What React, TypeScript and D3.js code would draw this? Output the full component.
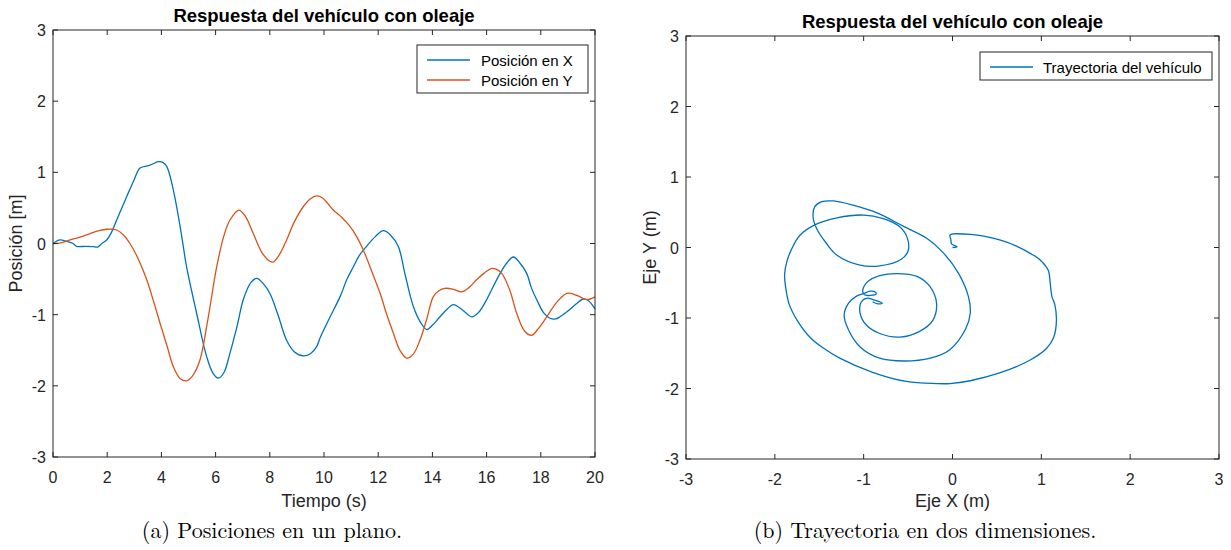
import React from "react";
import * as d3 from "d3";

// ---- Data ----
const timeX = [0, 0.26, 0.5, 0.74, 0.87, 1.2, 1.48, 1.65, 1.8, 1.98, 2.15, 2.35, 2.72, 3.0, 3.21, 3.58, 3.89, 4.05, 4.2, 4.4, 4.56, 4.75, 4.93, 5.3, 5.67, 5.9, 6.1, 6.3, 6.53, 6.8, 7.02, 7.3, 7.52, 7.75, 8.0, 8.3, 8.62, 8.9, 9.24, 9.5, 9.73, 9.85, 10.2, 10.59, 10.85, 11.08, 11.3, 11.57, 11.9, 12.19, 12.45, 12.74, 13.0, 13.3, 13.55, 13.79, 14.0, 14.28, 14.55, 14.77, 15.1, 15.45, 15.7, 16.0, 16.25, 16.5, 16.75, 16.99, 17.2, 17.48, 17.65, 17.85, 18.1, 18.34, 18.55, 18.71, 19.0, 19.3, 19.57, 19.75, 20];
const posX = [0, 0.05, 0.03, 0.0, -0.04, -0.04, -0.045, -0.05, 0.0, 0.05, 0.15, 0.33, 0.66, 0.9, 1.06, 1.1, 1.15, 1.14, 1.08, 0.82, 0.52, 0.1, -0.33, -0.98, -1.59, -1.82, -1.89, -1.82, -1.54, -1.15, -0.79, -0.55, -0.49, -0.56, -0.7, -1.0, -1.36, -1.52, -1.58, -1.55, -1.45, -1.33, -1.05, -0.75, -0.5, -0.33, -0.17, -0.04, 0.1, 0.18, 0.12, -0.04, -0.45, -0.89, -1.1, -1.21, -1.15, -1.03, -0.92, -0.86, -0.93, -1.03, -0.97, -0.79, -0.6, -0.42, -0.27, -0.19, -0.26, -0.42, -0.62, -0.79, -0.97, -1.05, -1.06, -1.03, -0.95, -0.85, -0.78, -0.8, -0.92];

const timeY = [0, 0.3, 0.63, 1.0, 1.37, 1.7, 1.98, 2.2, 2.35, 2.6, 2.84, 3.15, 3.46, 3.7, 3.95, 4.2, 4.44, 4.7, 4.93, 5.15, 5.42, 5.7, 6.04, 6.3, 6.53, 6.86, 7.1, 7.39, 7.7, 8.0, 8.13, 8.35, 8.62, 8.9, 9.24, 9.5, 9.73, 9.95, 10.34, 10.65, 10.96, 11.2, 11.45, 11.75, 12.07, 12.3, 12.56, 12.8, 13.05, 13.3, 13.54, 13.8, 14.03, 14.25, 14.46, 14.75, 15.08, 15.35, 15.63, 15.9, 16.19, 16.35, 16.56, 16.85, 17.11, 17.4, 17.66, 17.9, 18.22, 18.6, 18.96, 19.2, 19.45, 19.69, 20];
const posY = [0, 0.01, 0.05, 0.09, 0.14, 0.18, 0.2, 0.2, 0.19, 0.12, 0.0, -0.22, -0.51, -0.8, -1.12, -1.43, -1.73, -1.9, -1.93, -1.86, -1.64, -1.1, -0.33, 0.1, 0.33, 0.47, 0.38, 0.14, -0.12, -0.25, -0.26, -0.16, 0.05, 0.3, 0.52, 0.63, 0.67, 0.64, 0.47, 0.37, 0.24, 0.1, -0.09, -0.38, -0.7, -0.98, -1.26, -1.5, -1.61, -1.55, -1.36, -1.05, -0.75, -0.66, -0.63, -0.64, -0.68, -0.62, -0.51, -0.42, -0.35, -0.36, -0.42, -0.65, -0.98, -1.23, -1.29, -1.2, -1.03, -0.82, -0.7, -0.71, -0.75, -0.79, -0.75];

const trajX = [0.0, 0.05, 0.02, -0.01, -0.02, -0.03, -0.01, 0.05, 0.2, 0.35, 0.55, 0.72, 0.87, 0.99, 1.08, 1.1, 1.12, 1.15, 1.17, 1.14, 1.06, 0.87, 0.53, 0.2, -0.03, -0.18, -0.52, -0.9, -1.27, -1.45, -1.6, -1.75, -1.84, -1.88, -1.89, -1.86, -1.81, -1.72, -1.55, -1.3, -1.0, -0.78, -0.6, -0.51, -0.5, -0.58, -0.82, -1.04, -1.3, -1.42, -1.53, -1.57, -1.55, -1.47, -1.34, -1.12, -0.85, -0.55, -0.29, -0.1, 0.07, 0.18, 0.2, 0.15, -0.03, -0.25, -0.55, -0.82, -1.04, -1.17, -1.22, -1.17, -1.08, -0.99, -0.93, -0.87, -0.86, -0.92, -0.99, -1.01, -1.0, -0.95, -0.82, -0.63, -0.4, -0.25, -0.18, -0.22, -0.37, -0.59, -0.82, -0.97, -1.04, -1.03, -0.97, -0.87, -0.79, -0.84, -0.9];
const trajY = [0.0, 0.01, 0.03, 0.05, 0.12, 0.17, 0.19, 0.195, 0.185, 0.16, 0.1, 0.02, -0.08, -0.18, -0.33, -0.51, -0.7, -0.8, -1.03, -1.27, -1.43, -1.6, -1.78, -1.89, -1.93, -1.93, -1.9, -1.77, -1.57, -1.43, -1.28, -1.03, -0.8, -0.55, -0.38, -0.18, -0.02, 0.17, 0.32, 0.42, 0.46, 0.41, 0.3, 0.14, -0.05, -0.17, -0.26, -0.25, -0.11, 0.06, 0.27, 0.44, 0.58, 0.65, 0.66, 0.6, 0.49, 0.3, 0.13, -0.08, -0.37, -0.7, -0.93, -1.15, -1.45, -1.57, -1.61, -1.57, -1.41, -1.17, -0.96, -0.79, -0.69, -0.65, -0.62, -0.63, -0.66, -0.68, -0.67, -0.63, -0.56, -0.48, -0.4, -0.37, -0.41, -0.56, -0.79, -1.03, -1.19, -1.27, -1.22, -1.1, -0.93, -0.78, -0.72, -0.75, -0.79, -0.8, -0.77];

const timeTicks = [0, 2, 4, 6, 8, 10, 12, 14, 16, 18, 20];
const posTicks = [-3, -2, -1, 0, 1, 2, 3];
const ejeTicks = [-3, -2, -1, 0, 1, 2, 3];

const titleText = "Respuesta del vehículo con oleaje";
const legendLeft = ["Posición en X", "Posición en Y"];
const legendRight = ["Trayectoria del vehículo"];

const BLUE = "#0072BD";
const RED = "#D95319";
const AX = "#262626";
const SANS = "'Liberation Sans', Arial, Helvetica, sans-serif";
const SERIF = "'Latin Modern Roman', 'DejaVu Serif', 'Liberation Serif', serif";

type Pt = [number, number];

function Axes({ x, y, xTicks, yTicks }: { x: d3.ScaleLinear<number, number>; y: d3.ScaleLinear<number, number>; xTicks: number[]; yTicks: number[] }) {
  const [x0, x1] = x.range();
  const [y0, y1] = y.range(); // y0 bottom, y1 top
  const tl = 5;
  return (
    <g>
      {xTicks.map((t) => (
        <g key={"xt" + t}>
          <line x1={x(t)} x2={x(t)} y1={y0} y2={y0 - tl} stroke={AX} strokeWidth={1} />
          <line x1={x(t)} x2={x(t)} y1={y1} y2={y1 + tl} stroke={AX} strokeWidth={1} />
          <text x={x(t)} y={y0 + 26} textAnchor="middle" fontSize={16} fill={AX} fontFamily={SANS}>{t}</text>
        </g>
      ))}
      {yTicks.map((t) => (
        <g key={"yt" + t}>
          <line x1={x0} x2={x0 + tl} y1={y(t)} y2={y(t)} stroke={AX} strokeWidth={1} />
          <line x1={x1} x2={x1 - tl} y1={y(t)} y2={y(t)} stroke={AX} strokeWidth={1} />
          <text x={x0 - 7} y={y(t) + 6} textAnchor="end" fontSize={16} fill={AX} fontFamily={SANS}>{t}</text>
        </g>
      ))}
      <rect x={x0} y={y1} width={x1 - x0} height={y0 - y1} fill="none" stroke={AX} strokeWidth={1} />
    </g>
  );
}

export default function App() {
  const xL = d3.scaleLinear().domain([0, 20]).range([53, 595]);
  const yL = d3.scaleLinear().domain([-3, 3]).range([457, 30]);
  const xR = d3.scaleLinear().domain([-3, 3]).range([686, 1219]);
  const yR = d3.scaleLinear().domain([-3, 3]).range([459, 36]);

  const lineL = d3.line<Pt>().x((d) => xL(d[0])).y((d) => yL(d[1])).curve(d3.curveCatmullRom.alpha(0.5));
  const lineR = d3.line<Pt>().x((d) => xR(d[0])).y((d) => yR(d[1])).curve(d3.curveCatmullRom.alpha(0.5));

  const seriesX: Pt[] = timeX.map((t, i) => [t, posX[i]]);
  const seriesY: Pt[] = timeY.map((t, i) => [t, posY[i]]);
  const traj: Pt[] = trajX.map((v, i) => [v, trajY[i]]);

  const midL = (xL.range()[0] + xL.range()[1]) / 2;
  const midR = (xR.range()[0] + xR.range()[1]) / 2;

  return (
    <svg width={1231} height={550} style={{ position: "absolute", left: 0, top: 0, background: "#fff" }}>
      <rect x={0} y={0} width={1231} height={550} fill="#fff" />
      {/* Left chart */}
      <path d={lineL(seriesX) || ""} fill="none" stroke={BLUE} strokeWidth={1.3} />
      <path d={lineL(seriesY) || ""} fill="none" stroke={RED} strokeWidth={1.3} />
      <Axes x={xL} y={yL} xTicks={timeTicks} yTicks={posTicks} />
      <text x={midL} y={22} textAnchor="middle" fontSize={18.5} fontWeight="bold" fill="#000" fontFamily={SANS}>{titleText}</text>
      <text x={midL} y={507} textAnchor="middle" fontSize={18} fill={AX} fontFamily={SANS}>Tiempo (s)</text>
      <text transform={`translate(22,${(yL.range()[0] + yL.range()[1]) / 2}) rotate(-90)`} textAnchor="middle" fontSize={18} fill={AX} fontFamily={SANS}>Posición [m]</text>
      <g>
        <rect x={417} y={45} width={171} height={48} fill="#fff" stroke={AX} strokeWidth={1} />
        {legendLeft.map((lab, i) => (
          <g key={lab}>
            <line x1={427} x2={470} y1={60 + i * 20} y2={60 + i * 20} stroke={i === 0 ? BLUE : RED} strokeWidth={1.3} />
            <text x={481} y={65.5 + i * 20} fontSize={15} fill="#000" fontFamily={SANS}>{lab}</text>
          </g>
        ))}
      </g>
      <text x={272} y={538} textAnchor="middle" fontSize={22} fill="#000" fontFamily={SERIF}>(a) Posiciones en un plano.</text>

      {/* Right chart */}
      <path d={lineR(traj) || ""} fill="none" stroke={BLUE} strokeWidth={1.3} />
      <Axes x={xR} y={yR} xTicks={ejeTicks} yTicks={ejeTicks} />
      <text x={midR} y={28} textAnchor="middle" fontSize={18.5} fontWeight="bold" fill="#000" fontFamily={SANS}>{titleText}</text>
      <text x={midR} y={507} textAnchor="middle" fontSize={18} fill={AX} fontFamily={SANS}>Eje X (m)</text>
      <text transform={`translate(656,${(yR.range()[0] + yR.range()[1]) / 2}) rotate(-90)`} textAnchor="middle" fontSize={18} fill={AX} fontFamily={SANS}>Eje Y (m)</text>
      <g>
        <rect x={980} y={52} width={232} height={28} fill="#fff" stroke={AX} strokeWidth={1} />
        {legendRight.map((lab) => (
          <g key={lab}>
            <line x1={990} x2={1033} y1={67} y2={67} stroke={BLUE} strokeWidth={1.3} />
            <text x={1043} y={72.5} fontSize={15} fill="#000" fontFamily={SANS}>{lab}</text>
          </g>
        ))}
      </g>
      <text x={925} y={538} textAnchor="middle" fontSize={22} fill="#000" fontFamily={SERIF}>(b) Trayectoria en dos dimensiones.</text>
    </svg>
  );
}
